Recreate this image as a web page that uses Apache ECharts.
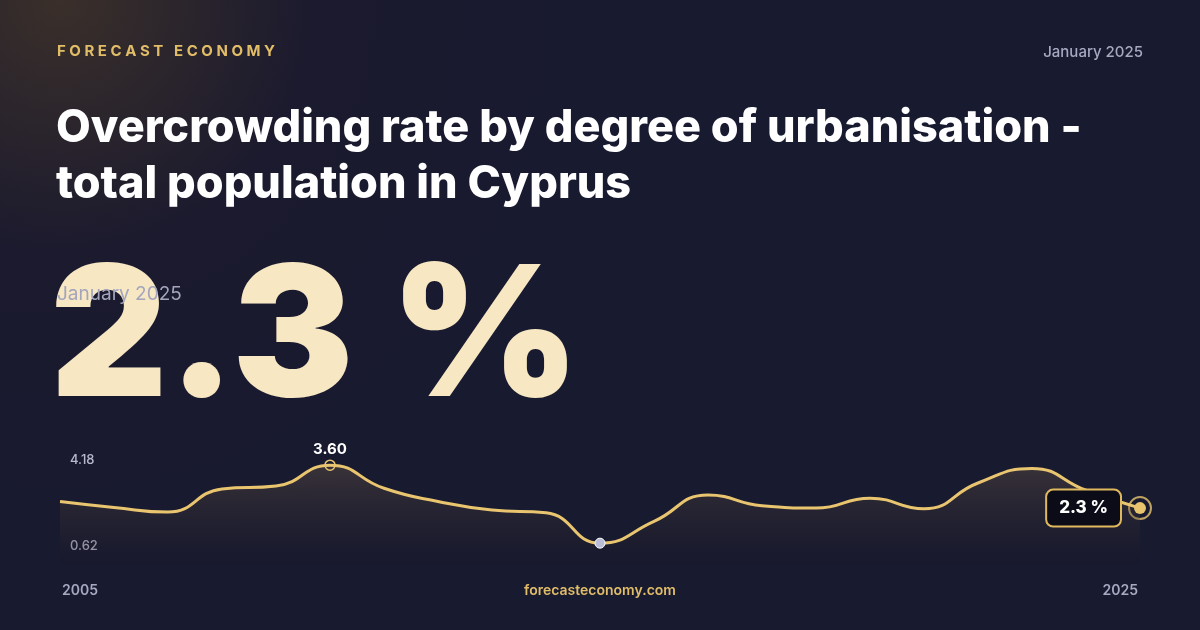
<!DOCTYPE html>
<html><head><meta charset="utf-8">
<script src="https://cdn.jsdelivr.net/npm/echarts@6/dist/echarts.min.js"></script>
<style>html,body{margin:0;padding:0;background:#161629}#main{width:1200px;height:630px}</style>
</head><body><div id="main"></div>
<script>
// 年份
var years = ['2005','2006','2007','2008','2009','2010','2011','2012','2013','2014','2015','2016','2017','2018','2019','2020','2021','2022','2023','2024','2025'];
// 数值
var values = [2.50,2.32,2.18,2.88,2.97,3.60,2.90,2.50,2.24,2.16,1.24,1.90,2.70,2.37,2.30,2.60,2.28,3.06,3.50,2.84,2.30];
var axisLabels = ['4.18','0.62'];

var chart = echarts.init(document.getElementById('main'));
var font = 'Inter, "Noto Sans", sans-serif';
var last = values.length - 1;
var seriesData = values.map(function(v, i){
	if (i === last) {
		return {value: v, symbol: 'circle', symbolSize: 12,
			itemStyle: {color: '#e8c46e'},
			label: {show: true, position: 'left', distance: 14, formatter: '2.3 %',
				color: '#fff', fontFamily: font, fontWeight: 800, fontSize: 17,
				backgroundColor: '#0b0c18', borderColor: '#e0b95e', borderWidth: 2,
				borderRadius: 6, padding: [9, 12, 9, 12]}};
	}
	return v;
});
var option = {
	backgroundColor: {type: 'radial', x: 0.05, y: 0, r: 0.9, colorStops: [
		{offset: 0, color: '#3a2f2a'}, {offset: 0.45, color: '#1b1a2e'}, {offset: 1, color: '#181a30'}]},
	grid: {left: 60, right: 60, top: 440, height: 125},
	xAxis: {type: 'category', data: years, boundaryGap: false, show: false},
	yAxis: {type: 'value', min: 0.58, max: 4.36, show: false},
	graphic: [
		{type: 'text', left: 57, top: 44, style: {text: 'F O R E C A S T   E C O N O M Y', fill: '#e2bd68', font: '700 15px ' + font}},
		{type: 'text', right: 57, top: 45, style: {text: 'January 2025', fill: '#a7a9c0', font: '500 15px ' + font, align: 'right'}},
		{type: 'text', left: 56, top: 100, style: {text: 'Overcrowding rate by degree of urbanisation -\ntotal population in Cyprus', fill: '#ffffff', font: '800 45px ' + font, lineHeight: 56}},
		{type: 'text', left: 50, top: 250, style: {text: '2.3 %', font: '900 182px ' + font,
			fill: '#f7e7c3', shadowBlur: 20, shadowColor: 'rgba(0,0,0,0.5)'}},
		{type: 'text', left: 57, top: 285, style: {text: 'January 2025', fill: '#a3a5bd', font: '400 19px ' + font}},
		{type: 'text', left: 70, top: 454, style: {text: axisLabels[0], fill: '#b8b9cc', font: '500 13px ' + font}},
		{type: 'text', left: 70, top: 540, style: {text: axisLabels[1], fill: '#b8b9cc', font: '500 13px ' + font}},
		{type: 'text', left: 62, top: 584, style: {text: years[0], fill: '#a7a9c0', font: '600 14px ' + font}},
		{type: 'text', right: 62, top: 584, style: {text: years[last], fill: '#a7a9c0', font: '600 14px ' + font, align: 'right'}},
		{type: 'text', left: 'center', top: 584, style: {text: 'forecasteconomy.com', fill: '#e2bd68', font: '600 14px ' + font}}
	],
	series: [{
		type: 'line', data: seriesData, smooth: 0.5, symbol: 'none', z: 3,
		lineStyle: {color: '#eac56f', width: 3},
		areaStyle: {color: new echarts.graphic.LinearGradient(0, 0, 0, 1, [
			{offset: 0, color: 'rgba(110,90,70,0.55)'}, {offset: 1, color: 'rgba(20,20,35,0.3)'}])},
		markPoint: {
			symbol: 'circle', symbolSize: 10,
			data: [
				{type: 'max', itemStyle: {color: 'rgba(0,0,0,0)', borderColor: '#eac56f', borderWidth: 1.5},
					label: {show: true, position: 'top', distance: 2, formatter: '3.60', color: '#fff', fontFamily: font, fontWeight: 700, fontSize: 15}},
				{type: 'min', itemStyle: {color: '#b9bdd6', borderColor: '#fff', borderWidth: 1}, label: {show: false}}
			]
		}
	}, {
		type: 'scatter', z: 2, symbolSize: 22, silent: true,
		data: years.map(function(y, i){ return i === last ? values[i] : '-'; }),
		itemStyle: {color: 'rgba(0,0,0,0)', borderColor: '#e8c46e', borderWidth: 2}
	}]
};
chart.setOption(option);
</script></body></html>
